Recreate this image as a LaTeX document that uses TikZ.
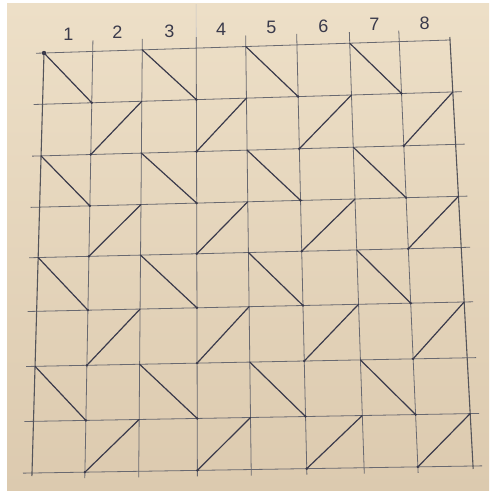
\documentclass[tikz,border=0pt]{standalone}
\usepackage{fontspec}
\setmainfont{Liberation Sans}
\usetikzlibrary{calc}
\definecolor{bgtop}{RGB}{237,223,199}
\definecolor{bgbot}{RGB}{220,202,175}
\definecolor{pen}{RGB}{105,105,112}
\definecolor{ink}{RGB}{58,58,75}
\tikzset{
  gridline/.style={pen, line width=0.8pt},
  border/.style={pen!80!black, line width=1.1pt},
  diag/.style={ink, line width=1.2pt, line cap=round},
  penlabel/.style={ink, font=\fontsize{18}{18}\selectfont, inner sep=0pt},
  pendot/.style={ink, fill=ink}
}
\begin{document}
\begin{tikzpicture}[x=1pt,y=-1pt]
\useasboundingbox (0,0) rectangle (489,494);
\fill[white] (0,0) rectangle (489,494);
\shade[top color=bgtop, bottom color=bgbot] (7,4) rectangle (489,490);
% grid points (bilinear warp of a hand-drawn square)
\foreach \i/\u in {0/0,1/.12,2/.242,3/.375,4/.497,5/.623,6/.753,7/.875,8/1}{
  \foreach \j/\v in {0/0,1/.122,2/.245,3/.367,4/.487,5/.615,6/.746,7/.877,8/1}{
    \pgfmathsetmacro\px{(1-\u)*(1-\v)*44+\u*(1-\v)*450+(1-\u)*\v*32+\u*\v*473}
    \pgfmathsetmacro\py{(1-\u)*(1-\v)*53+\u*(1-\v)*40+(1-\u)*\v*473+\u*\v*466}
    \coordinate (p\i-\j) at (\px,\py);
  }
}
% faint crease
\draw[pen!40, line width=0.6pt] (p3-0) -- ($(p3-0)!-44pt!(p3-8)$);
% horizontal lines
\draw[gridline] ($(p0-0)!-8pt!(p8-0)$) -- (p8-0);
\foreach \j in {1,...,8}{
  \draw[gridline] ($(p0-\j)!-9pt!(p8-\j)$) -- ($(p8-\j)!-9pt!(p0-\j)$);
}
% vertical lines
\foreach \i in {1,...,7}{
  \draw[gridline] ($(p\i-0)!-11pt!(p\i-8)$) -- ($(p\i-8)!-6pt!(p\i-0)$);
}
\draw[border] (p0-0) -- ($(p0-8)!-3pt!(p0-0)$);
\draw[border] ($(p8-0)!-3pt!(p8-8)$) -- ($(p8-8)!-3pt!(p8-0)$);
% diagonals
\foreach \r in {0,2,4,6}{
  \foreach \c in {0,2,4,6}{
    \pgfmathtruncatemacro\rr{\r+1}
    \pgfmathtruncatemacro\cc{\c+1}
    \draw[diag] (p\c-\r) -- (p\cc-\rr);
    \fill[pendot] (p\cc-\rr) circle (1.4pt);
  }
}
\foreach \r in {1,3,5,7}{
  \foreach \c in {1,3,5,7}{
    \pgfmathtruncatemacro\rr{\r+1}
    \pgfmathtruncatemacro\cc{\c+1}
    \draw[diag] (p\c-\rr) -- (p\cc-\r);
    \fill[pendot] (p\c-\rr) circle (1.4pt);
  }
}
\fill[pendot] (p0-0) circle (2.2pt);
% column numbers
\foreach \i in {1,...,8}{
  \pgfmathtruncatemacro\k{\i-1}
  \node[penlabel] (l\i) at ($($(p\k-0)!.5!(p\i-0)$)+(0,-18)$) {\i};
}
\end{tikzpicture}
\end{document}
